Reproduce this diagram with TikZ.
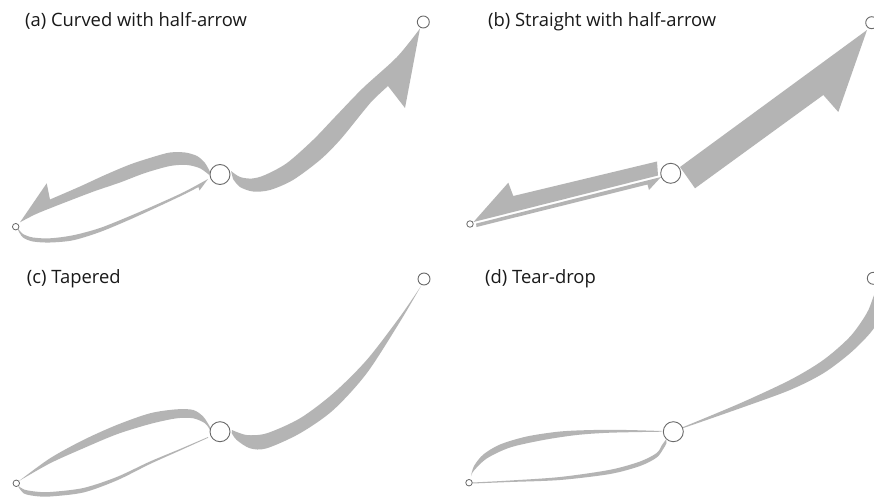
\documentclass[tikz,border=0pt]{standalone}
\usepackage{fontspec}
\newfontfamily\titlefont{Open Sans}
\definecolor{bandgray}{RGB}{180,180,180}
\definecolor{ringgray}{RGB}{105,105,105}
\definecolor{inkcol}{RGB}{25,25,25}
\tikzset{
  ribbon/.style={fill=bandgray, draw=none},
  hubnode/.style={circle, draw=ringgray, fill=white, line width=0.9pt, minimum size=20pt, inner sep=0pt},
  farend/.style={circle, draw=ringgray, fill=white, line width=0.9pt, minimum size=12pt, inner sep=0pt},
  nearend/.style={circle, draw=ringgray, fill=white, line width=0.8pt, minimum size=6.5pt, inner sep=0pt},
  paneltitle/.style={anchor=base west, text=inkcol, inner sep=0pt, font=\titlefont\fontsize{18.4}{21}\selectfont}
}
\begin{document}
\begin{tikzpicture}[x=1pt,y=-1pt]
\useasboundingbox (0,0) rectangle (874,497);
\clip (0,0) rectangle (874,497);
\fill[white] (0,0) rectangle (874,497);

% ---------- titles
\node[paneltitle] (ta) at (25,26.7) {(a) Curved with half-arrow};
\node[paneltitle] (tb) at (488,26.7) {(b) Straight with half-arrow};
\node[paneltitle] (tc) at (26.7,283.3) {(c) Tapered};
\node[paneltitle] (td) at (485,283.3) {(d) Tear-drop};

% ---------- (a) curved with half-arrow
\fill[ribbon] plot[smooth] coordinates {(231,171) (240,177) (252,178.5) (265,175) (287,163) (313,140) (335,117) (363,88) (397,57) (420,28.5)}
  -- (405,108) -- (388,86)
  -- plot[smooth] coordinates {(388,86) (373,100) (362,113) (340,140) (320,160) (293,180) (270,190) (253,191.5) (240,187) (233,179)} -- cycle;
\fill[ribbon] plot[smooth] coordinates {(210,172) (205,163) (197,156) (185,152.5) (170,152.5) (153,157) (130,164.5) (105,175) (80,186.5) (50,199.5)}
  -- (46.7,183.3) -- (20,222.3)
  -- plot[smooth] coordinates {(20,222.3) (35,214.5) (50,208.3) (70,200.5) (95,191) (120,182.5) (145,173) (170,166) (187,165) (200,168.3) (209.3,175)} -- cycle;
\fill[ribbon] plot[smooth] coordinates {(18,228.5) (23,234) (33,237.5) (50,238.3) (73,235.3) (100,228) (130,216) (160,203) (185,191.5) (208,179)}
  -- (199.5,190.5) -- (198.5,187)
  -- plot[smooth] coordinates {(198.5,187) (185,194) (160,205.8) (130,219.5) (100,232) (73,240.3) (50,242.5) (33,241.5) (23,237.5) (18,230)} -- cycle;
\node[nearend] (sa) at (15.7,226.7) {};
\node[hubnode] (ca) at (220,174.5) {};
\node[farend] (fa) at (423.3,22) {};

% ---------- (b) straight with half-arrow
\fill[ribbon] (680,167) -- (867,30) -- (838.3,112) -- (823.3,95) -- (695,188.3) -- cycle;
\fill[ribbon] (657,161.5) -- (513.3,196) -- (508.3,182.7) -- (473.5,222) -- (658,175.5) -- cycle;
\fill[ribbon] (476,223.6) -- (661,177) -- (649,190) -- (647.5,184.5) -- (476.5,227) -- cycle;
\node[nearend] (sb) at (470,224) {};
\node[hubnode] (cb) at (670.7,173.3) {};
\node[farend] (fb) at (871.7,22.7) {};

% ---------- (c) tapered
\fill[ribbon] plot[smooth] coordinates {(232,430) (246.7,435) (266.7,433.3) (300,418.3) (333.3,393.3) (366.7,360) (400,316.7) (421,286)}
  -- plot[smooth] coordinates {(421,286) (400,321.7) (366.7,373.3) (333.3,410) (300,433.3) (266.7,448.3) (250,448.3) (236.7,440) (231.7,433)} -- cycle;
\fill[ribbon] plot[smooth] coordinates {(210,427) (203.3,416.7) (193.3,410) (176.7,409.3) (150,413.3) (116.7,425) (83.3,440) (50,458.3) (19,481)}
  -- plot[smooth] coordinates {(19,481) (50,463.3) (83.3,448.3) (116.7,434.3) (150,424) (176.7,418.3) (193.3,418.3) (205,423.3) (210,430)} -- cycle;
\fill[ribbon] plot[smooth] coordinates {(18.5,486) (24,489.5) (35,491.5) (50,492) (83.3,488) (116.7,477) (150,461.5) (180,449) (208,437)}
  -- plot[smooth] coordinates {(208,437.8) (180,450.5) (150,464) (116.7,480.5) (83.3,492.5) (50,496.5) (35,496) (24,493.5) (18.5,487)} -- cycle;
\node[nearend] (sc) at (16.3,483.3) {};
\node[hubnode] (cc) at (220,431.7) {};
\node[farend] (fc) at (424,279) {};

% ---------- (d) tear-drop
\fill[ribbon] plot[smooth] coordinates {(661.7,431) (626.7,430) (593.3,430) (560,431.5) (526.7,436.5) (500,444.5) (483.3,454.5) (474,466) (471,476)}
  -- plot[smooth] coordinates {(471,476) (474,470.5) (486.7,458.5) (510,447.5) (543.3,440) (576.7,435) (610,432.7) (661.7,431.7)} -- cycle;
\fill[ribbon] plot[smooth] coordinates {(472.5,482.5) (510,480.5) (560,477) (610,469.8) (640,461.5) (656.7,453) (662,445) (666,439.5)}
  -- plot[smooth] coordinates {(666,439.5) (666.5,443) (663.5,448.5) (656.7,457.5) (640,466) (610,474) (560,480) (510,482) (472.5,483.5)} -- cycle;
\fill[ribbon] plot[smooth] coordinates {(682,427.5) (740,403.3) (790,380) (823.3,360) (850,336.7) (866.7,313.3) (873.3,297) (878,285)}
  -- plot[smooth] coordinates {(878,285) (886,300) (880,318) (870,333.3) (850,353.3) (823.3,373.3) (790,390) (740,408.3) (682,428.5)} -- cycle;
\node[nearend] (sd) at (469,482.7) {};
\node[hubnode] (cd) at (673.3,431.7) {};
\node[farend] (fd) at (873.3,278.3) {};
\end{tikzpicture}
\end{document}
